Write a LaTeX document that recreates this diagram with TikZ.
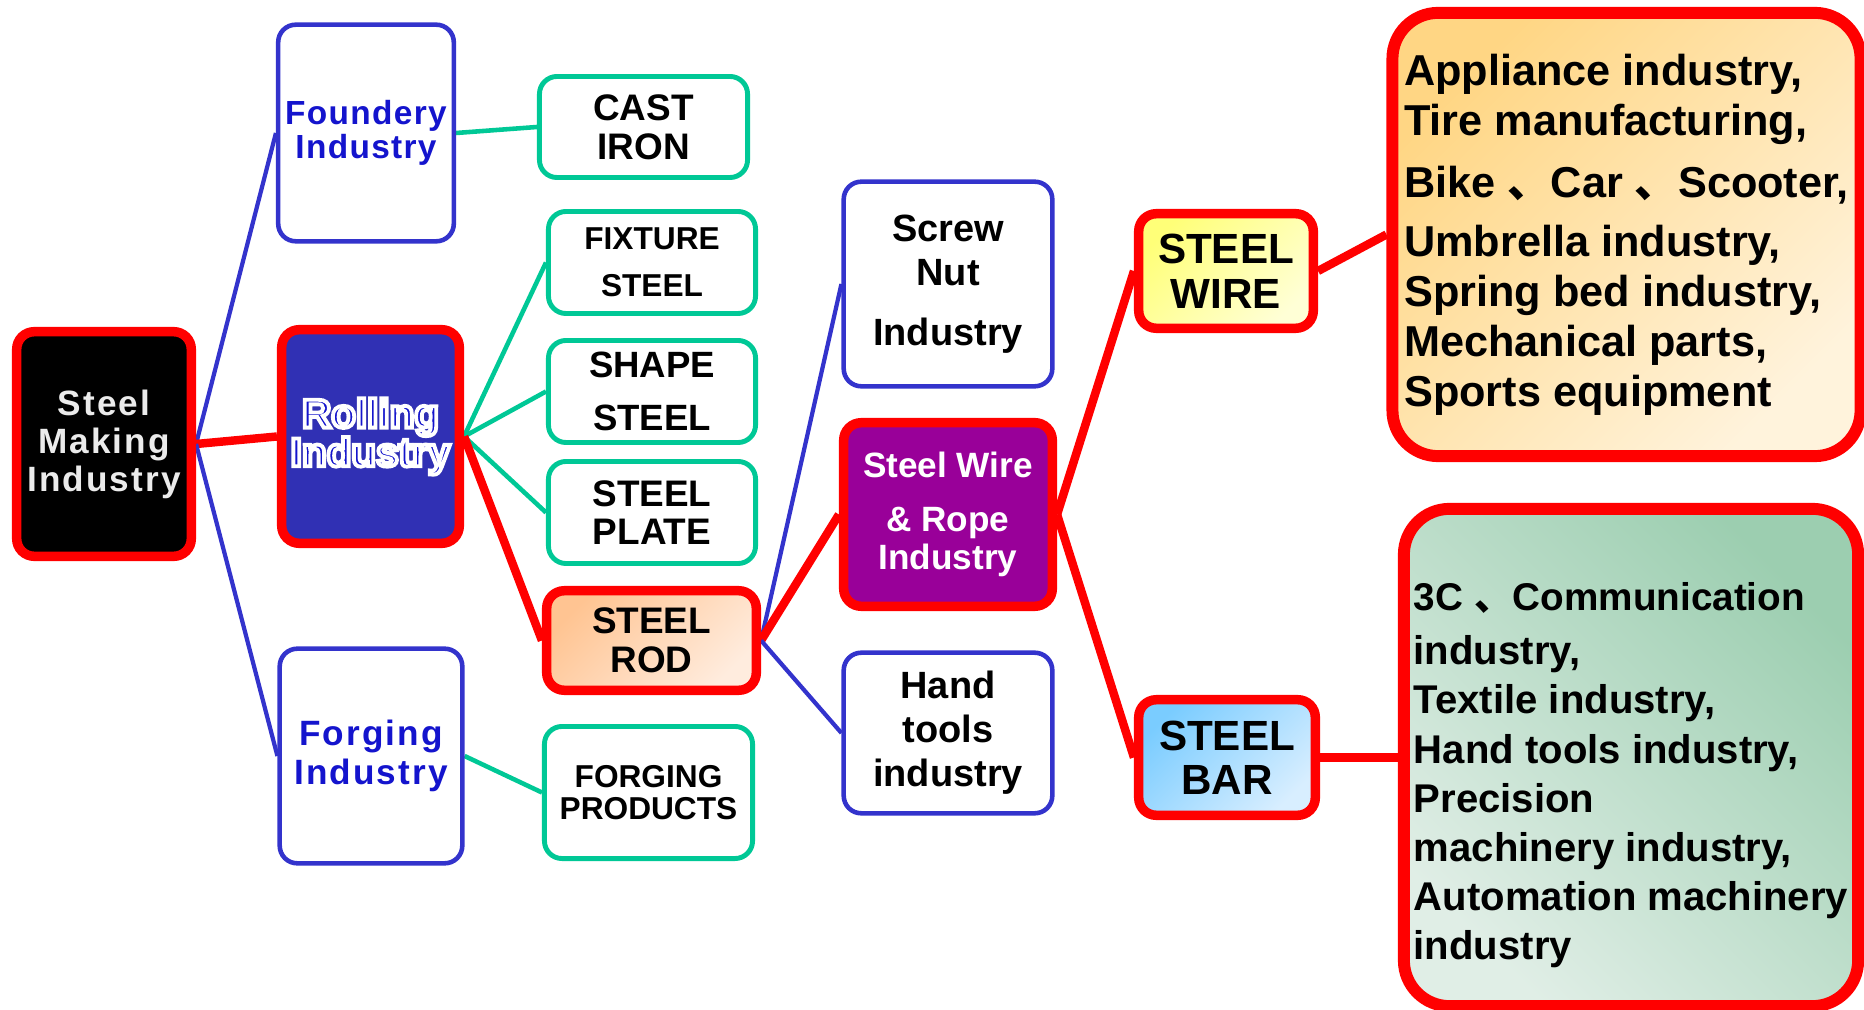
\documentclass[tikz,border=0pt]{standalone}
\usepackage{fontspec}
\setmainfont{Liberation Sans}
\newfontfamily\cjk{Noto Sans CJK SC}
\usetikzlibrary{backgrounds}
\definecolor{frame}{RGB}{51,51,204}
\definecolor{mint}{RGB}{0,200,150}
\definecolor{rollfill}{RGB}{48,48,180}
\definecolor{ropefill}{RGB}{153,0,153}
\definecolor{inkblue}{RGB}{20,20,205}
\definecolor{rodA}{RGB}{255,196,146}
\definecolor{rodB}{RGB}{255,236,222}
\definecolor{wireA}{RGB}{255,255,120}
\definecolor{wireB}{RGB}{255,255,214}
\definecolor{barA}{RGB}{122,204,255}
\definecolor{barB}{RGB}{216,238,255}
\definecolor{appA}{RGB}{255,214,132}
\definecolor{appB}{RGB}{255,243,220}
\definecolor{comA}{RGB}{156,206,176}
\definecolor{comB}{RGB}{224,238,230}
\newcommand{\fsz}[2]{\fontsize{#1}{#2}\selectfont\bfseries}
\newcommand{\outl}[1]{\special{pdf:literal direct 1 1 1 RG 1.1 w 2 Tr}#1\special{pdf:literal direct 0 Tr}}
\tikzset{
  redbox/.style={draw=red,line width=2.7pt,rounded corners=5pt,align=center,inner sep=2pt},
  bluebox/.style={draw=frame,line width=1.3pt,fill=white,rounded corners=5pt,align=center,inner sep=2pt},
  mintbox/.style={draw=mint,line width=1.4pt,fill=white,rounded corners=5pt,align=center,inner sep=2pt},
  bigbox/.style={draw=red,line width=3.4pt,rounded corners=13pt,align=left},
  redlink/.style={draw=red,line width=2.4pt},
  bluelink/.style={draw=frame,line width=1.2pt},
  mintlink/.style={draw=mint,line width=1.3pt}
}
\begin{document}
\begin{tikzpicture}[x=0.01cm,y=-0.01cm]
  \useasboundingbox (0,0) rectangle (1864,1010);
  \node[redbox,fill=black,text=black!8,minimum width=1.745cm,minimum height=2.245cm,
    font=\fsz{10}{10.8}\addfontfeature{LetterSpace=6}] (steel) at (104,444) {Steel\\Making\\Industry};
  \node[bluebox,text=inkblue,minimum width=1.725cm,minimum height=2.165cm,
    font=\fsz{9.5}{9.7}\addfontfeature{LetterSpace=4}] (found) at (366,133) {Foundery\\Industry};
  \node[redbox,fill=rollfill,text=inkblue,minimum width=1.775cm,minimum height=2.135cm,
    font=\fsz{11.5}{11}] (roll) at (370.5,436.5) {\outl{Rolling}\\\outl{Industry}};
  \node[bluebox,text=inkblue,minimum width=1.825cm,minimum height=2.145cm,
    font=\fsz{10}{11.3}\addfontfeature{LetterSpace=6}] (forge) at (371,756) {Forging\\Industry};

  \node[mintbox,minimum width=2.08cm,minimum height=1.01cm,font=\fsz{10.5}{11}] (cast) at (643.5,127) {CAST\\IRON};
  \node[mintbox,minimum width=2.07cm,minimum height=1.02cm,font=\fsz{9}{13.3}] (fixt) at (652,262.5) {FIXTURE\\STEEL};
  \node[mintbox,minimum width=2.07cm,minimum height=1.02cm,font=\fsz{10.4}{15.3}] (shape) at (652,391.5) {SHAPE\\STEEL};
  \node[mintbox,minimum width=2.07cm,minimum height=1.02cm,font=\fsz{10.5}{11}] (plate) at (652,512.5) {STEEL\\PLATE};
  \node[redbox,top color=rodA,bottom color=rodB,shading angle=45,minimum width=2.095cm,minimum height=0.995cm,
    font=\fsz{10.5}{11}] (rod) at (651.5,640.5) {STEEL\\ROD};
  \node[mintbox,minimum width=2.08cm,minimum height=1.32cm,font=\fsz{9}{9.2}] (fprod) at (648.5,792.5) {FORGING\\PRODUCTS};

  \node[bluebox,minimum width=2.085cm,minimum height=2.045cm,font=\fsz{10.8}{12.5}] (screw) at (948,284) {Screw\\Nut\\[4.5pt]Industry};
  \node[redbox,fill=ropefill,text=white,minimum width=2.085cm,minimum height=1.835cm,
    font=\fsz{10}{11}] (rope) at (948,514.5) {Steel Wire\\[4.3pt]\& Rope\\Industry};
  \node[bluebox,minimum width=2.085cm,minimum height=1.605cm,font=\fsz{10.8}{12.5}] (hand) at (948,733) {Hand\\tools\\industry};

  \node[redbox,top color=wireA,bottom color=wireB,shading angle=45,minimum width=1.745cm,minimum height=1.145cm,
    font=\fsz{12}{12.8}] (wire) at (1226,271) {STEEL\\WIRE};
  \node[redbox,top color=barA,bottom color=barB,shading angle=45,minimum width=1.765cm,minimum height=1.155cm,
    font=\fsz{12}{12.6}] (bar) at (1227,757.5) {STEEL\\BAR};

  \node[bigbox,top color=appA,bottom color=appB,shading angle=45,minimum width=4.63cm,minimum height=4.43cm,
    font=\fsz{12.3}{14.2}] (apps) at (1626.5,234.5)
    {Appliance industry,\\Tire manufacturing,\\[3.5pt]
     Bike {\cjk 、}Car {\cjk 、}Scooter,\\[2.5pt]
     Umbrella industry,\\Spring bed industry,\\Mechanical parts,\\Sports equipment};
  \node[bigbox,top color=comA,bottom color=comB,shading angle=-45,minimum width=4.54cm,minimum height=4.97cm,
    inner xsep=2pt,font=\fsz{11.4}{14}] (comm) at (1631,757.5)
    {\rule{0pt}{18pt}{\fontsize{11}{14}\selectfont 3C {\cjk 、}Communication}\\[1.5pt]
     industry,\\Textile industry,\\Hand tools industry,\\Precision\\machinery industry,\\
     Automation machinery\\industry};

  \begin{scope}[on background layer]
    \draw[bluelink] (steel.east) -- (found.west);
    \draw[redlink] (steel.east) -- (roll.west);
    \draw[bluelink] (steel.east) -- (forge.west);
    \draw[mintlink] (found.east) -- (cast.west);
    \draw[mintlink] (roll.east) -- (fixt.west);
    \draw[mintlink] (roll.east) -- (shape.west);
    \draw[mintlink] (roll.east) -- (plate.west);
    \draw[redlink] (roll.east) -- (rod.west);
    \draw[mintlink] (forge.east) -- (fprod.west);
    \draw[bluelink] (rod.east) -- (screw.west);
    \draw[redlink] (rod.east) -- (rope.west);
    \draw[bluelink] (rod.east) -- (hand.west);
    \draw[redlink] (rope.east) -- (wire.west);
    \draw[redlink] (rope.east) -- (bar.west);
    \draw[redlink] (wire.east) -- (apps.west);
    \draw[redlink] (bar.east) -- (comm.west);
  \end{scope}
\end{tikzpicture}
\end{document}
